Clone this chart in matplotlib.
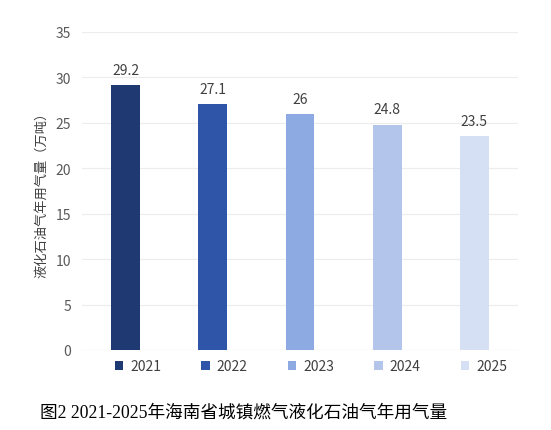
import matplotlib
matplotlib.use("Agg")
import matplotlib.pyplot as plt
from matplotlib.patches import Patch

years = ["2021", "2022", "2023", "2024", "2025"]
values = [29.2, 27.1, 26, 24.8, 23.5]
value_labels = ["29.2", "27.1", "26", "24.8", "23.5"]
colors = ["#1f3a73", "#2e55a8", "#8eaae2", "#b3c5eb", "#d6e0f5"]
yticks = [0, 5, 10, 15, 20, 25, 30, 35]

plt.rcParams['font.family'] = ['Noto Sans CJK SC', 'DejaVu Sans']

fig = plt.figure(figsize=(5.51, 4.31), dpi=100)
ax = fig.add_axes([82/551, 1 - 351/431, 436/551, 318/431])

x = list(range(len(years)))
bars = ax.bar(x, values, width=0.33, color=colors, zorder=3)
for xi, v, lab in zip(x, values, value_labels):
    ax.text(xi, v + 0.9, lab, ha='center', va='bottom', fontsize=10, color='#404040')

ax.set_xlim(-0.5, len(years) - 0.5)
ax.set_ylim(0, 35)
ax.set_yticks(yticks)
ax.set_yticklabels([str(t) for t in yticks], fontsize=10, color='#595959')
ax.set_xticks([])
ax.yaxis.grid(True, color='#ececec', linewidth=0.8, zorder=0)
ax.tick_params(axis='y', length=0, pad=8)
for s in ax.spines.values():
    s.set_visible(False)
ax.axhline(0, color='#e0e0e0', linewidth=0.8, zorder=2)

ax.set_ylabel("液化石油气年用气量（万吨）", fontsize=9.5, color='#404040', labelpad=5)

handles = [Patch(facecolor=c, edgecolor='none') for c in colors]
leg = ax.legend(handles, years, ncol=5, loc='upper center', bbox_to_anchor=(0.525, 0.01),
                frameon=False, fontsize=10, handlelength=0.6, handleheight=0.6,
                handletextpad=0.5, columnspacing=2.9)
for t in leg.get_texts():
    t.set_color('#404040')

fig.text(40/551, 1 - 413/431, "图2 2021-2025年海南省城镇燃气液化石油气年用气量",
         fontsize=12.7, color='#000000', va='center', ha='left',
         family=['Liberation Serif', 'Noto Sans CJK SC'])

fig.savefig("out.png", dpi=100)
